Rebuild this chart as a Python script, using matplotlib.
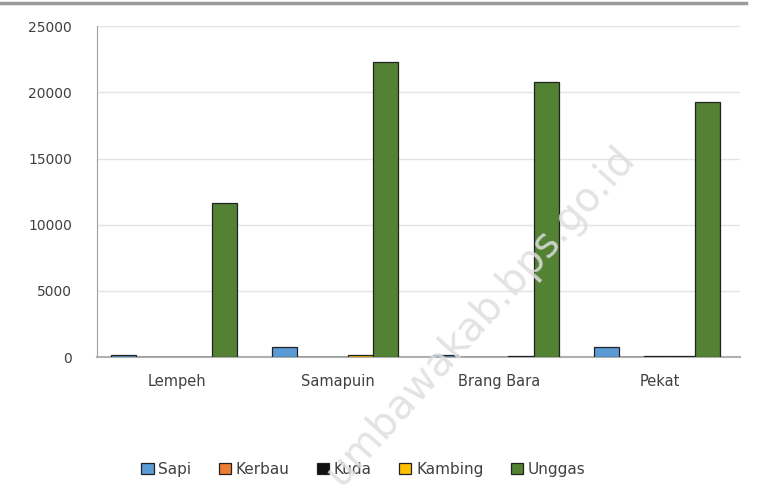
import numpy as np
import matplotlib
matplotlib.use('Agg')
import matplotlib.pyplot as plt
from matplotlib.lines import Line2D

# jumlah ternak per desa
desa = ['Lempeh', 'Samapuin', 'Brang Bara', 'Pekat']
jenis = ['Sapi', 'Kerbau', 'Kuda', 'Kambing', 'Unggas']
sapi = [200, 750, 150, 800]
kerbau = [20, 10, 40, 40]
kuda = [40, 10, 50, 70]
kambing = [30, 150, 60, 100]
unggas = [11650, 22300, 20750, 19300]
warna = ['#5B9BD5', '#ED7D31', '#111111', '#FFC000', '#548235']

fig = plt.figure(figsize=(7.57, 5.01), dpi=100)
ax = fig.add_axes([0.128, 0.287, 0.85, 0.661])

x = np.arange(len(desa))
w = 0.157
for i, vals in enumerate([sapi, kerbau, kuda, kambing, unggas]):
    ax.bar(x + (i - 2) * w - 0.02, vals, w, color=warna[i], edgecolor='#222222',
           linewidth=0.9, label=jenis[i], zorder=3)

ax.set_ylim(0, 25000)
ax.set_xlim(-0.5, 3.5)
ax.set_yticks(range(0, 25001, 5000))
ax.set_xticks(x)
ax.set_xticklabels(desa, fontsize=10.5, color='#404040')
ax.tick_params(axis='y', labelsize=10, colors='#404040', length=0, pad=18)
ax.tick_params(axis='x', length=0, pad=12)
ax.yaxis.grid(True, color='#e4e4e4', linewidth=1, zorder=0)
for s in ['top', 'right']:
    ax.spines[s].set_visible(False)
ax.spines['left'].set_color('#a0a0a0')
ax.spines['bottom'].set_color('#b0b0b0')
ax.spines['bottom'].set_linewidth(1.5)

ax.legend(loc='center', ncol=5, frameon=False, fontsize=11, handlelength=0.8,
          handleheight=0.8, handletextpad=0.3, columnspacing=1.8,
          labelcolor='#404040')
ax.get_legend().set_bbox_to_anchor((0.48, 0.063), transform=fig.transFigure)

# garis tepi atas
fig.add_artist(Line2D([0, 0.985], [0.995, 0.995], color='#9a9a9a', linewidth=2.5,
                      transform=fig.transFigure))

# watermark
fig.text(0.635, 0.37, 'umbawakab.bps.go.id', rotation=48, fontsize=29,
         color='#dedede', alpha=0.85, ha='center', va='center',
         zorder=10)

fig.savefig('out.png', dpi=100)
